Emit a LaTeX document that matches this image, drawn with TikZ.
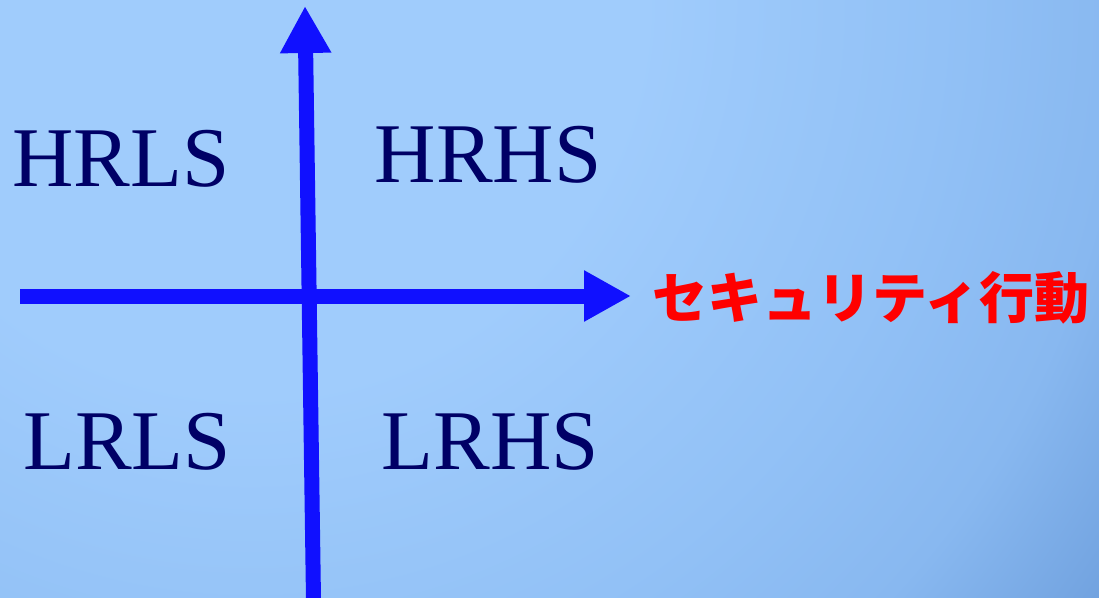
\documentclass[tikz,border=0pt]{standalone}
\usepackage{fontspec}
\setmainfont{Liberation Serif}
\newfontfamily\jpfont{Noto Sans CJK JP}
\usetikzlibrary{arrows.meta}
\definecolor{bgtop}{RGB}{160,204,252}
\definecolor{bgmida}{RGB}{146,193,246}
\definecolor{bgmidb}{RGB}{136,184,240}
\definecolor{bgmidc}{RGB}{114,163,224}
\definecolor{bgbot}{RGB}{104,154,217}
\definecolor{axisblue}{RGB}{16,16,255}
\definecolor{labelnavy}{RGB}{0,0,102}
\definecolor{labelred}{RGB}{255,0,0}
\pgfdeclareradialshading{bgshade}{\pgfpoint{0bp}{0bp}}{%
  color(0bp)=(bgtop); color(8.5bp)=(bgtop); color(15bp)=(bgmida);
  color(19bp)=(bgmidb); color(22.5bp)=(bgmidc); color(25bp)=(bgbot);
  color(50bp)=(bgbot)}
\tikzset{
  axisline/.style={draw=axisblue, line width=15pt,
    -{Triangle[length=47pt 0 0, width=48pt 0 0]}},
  quad/.style={text=labelnavy, inner sep=0pt, anchor=base,
    font=\fontsize{85}{90}\selectfont},
  axislabel/.style={text=labelred, inner sep=0pt, anchor=base,
    font=\jpfont\bfseries\fontsize{55}{60}\selectfont},
}
\begin{document}
\begin{tikzpicture}[x=1pt,y=-1pt]
\useasboundingbox (0,0) rectangle (1099,597);
\begin{scope}
\clip (0,0) rectangle (1099,597);
\fill[bgbot] (0,0) rectangle (1099,597);
\shade[shading=bgshade] (250,0) circle (1150);
\end{scope}
\coordinate (ystart) at (313.5,600);
\coordinate (yend) at (305,6);
\coordinate (xstart) at (20,296);
\coordinate (xend) at (631,296);
\draw[axisline] (ystart) -- (yend);
\draw[axisline] (xstart) -- (xend);
\node[quad] (hrls) at (121,186) {HRLS};
\node[quad] (hrhs) at (488,182) {HRHS};
\node[quad] (lrls) at (127,469) {LRLS};
\node[quad] (lrhs) at (490,469) {LRHS};
\node[axislabel] (act) at (871,318) {セキュリティ行動};
\end{tikzpicture}
\end{document}
